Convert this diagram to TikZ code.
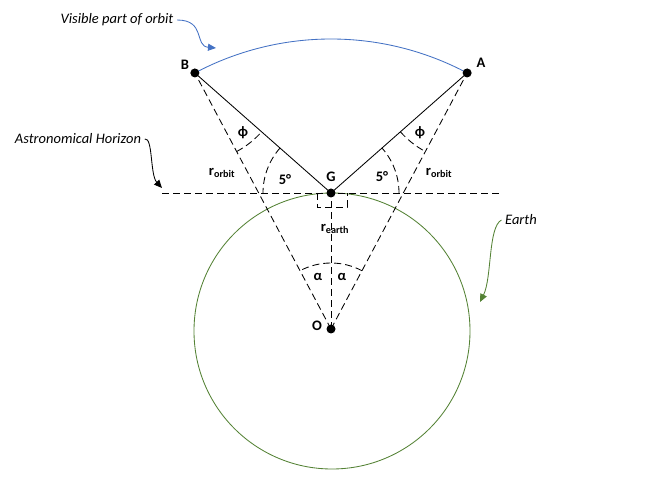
\documentclass[tikz,border=0pt]{standalone}
\usepackage{fontspec}
\setmainfont{Carlito}
\usetikzlibrary{calc,angles,arrows.meta}
\definecolor{orbitblue}{HTML}{4472C4}
\definecolor{earthgreen}{HTML}{548235}
\newcommand{\picsize}{\fontsize{14.5}{17}\selectfont}
\tikzset{
  dashline/.style={dash pattern=on 7pt off 4pt},
  angarc/.style={draw, dash pattern=on 7pt off 4pt},
  lbl/.style={font=\picsize\bfseries},
  note/.style={font=\picsize\itshape},
  dot/.style={fill=black}
}
\begin{document}
\begin{tikzpicture}[x=1pt, y=1pt, line width=0.85pt]
\useasboundingbox (0,0) rectangle (646,493);
%points
\coordinate (O) at (331,164);
\coordinate (G) at (331,300);
\coordinate (A) at ($(O)+(62:290)$);
\coordinate (B) at ($(O)+(118:290)$);
\coordinate (earthC) at (332,162); %centre of drawn earth
%ends of horizon
\coordinate (H1) at (162,300);
\coordinate (H2) at (500,300);
%tips of the note arrows
\coordinate (visTip) at (216,445);
\coordinate (horTip) at (162,305);
\coordinate (earthTip) at (480,191);
%earth and orbit
\draw [earthgreen] (earthC) circle (138);
\draw [orbitblue] (A) arc [start angle=62, end angle=118, radius=290];
%lines
\draw [dashline] (H1) -- (H2);
\draw [dashline] (O) -- (A);
\draw [dashline] (O) -- (B);
\draw [dashline] (O) -- (G);
\draw (G) -- (A);
\draw (G) -- (B);
\draw [dashline] (317,300) -- (317,286) -- (347,286) -- (347,300);
%angles
\pic [angarc, angle radius=66pt] {angle = A--O--B};
\pic [angarc, angle radius=68pt] {angle = H2--G--A};
\pic [angarc, angle radius=68pt] {angle = B--G--H1};
\pic [angarc, angle radius=89pt] {angle = G--A--O};
\pic [angarc, angle radius=89pt] {angle = O--B--G};
%dots
\fill [dot] (O) circle (4.5);
\fill [dot] (G) circle (4.5);
\fill [dot] (A) circle (4.5);
\fill [dot] (B) circle (4.5);
%labels
\node [lbl] (labB) at (185,428) {B};
\node [lbl] (labA) at (481,430) {A};
\node [lbl] (labG) at (331,316) {G};
\node [lbl] (labO) at (317,167) {O};
\node [lbl] (rOrbL) at (222,320) {r\textsubscript{orbit}};
\node [lbl] (rOrbR) at (439,320) {r\textsubscript{orbit}};
\node [lbl] (rEarth) at (335,264) {r\textsubscript{earth}};
\node [lbl] (fiveL) at (285,313) {5°};
\node [lbl] (fiveR) at (382,316) {5°};
\node [lbl] (phiL) at (243,360) {ϕ};
\node [lbl] (phiR) at (420,360) {ϕ};
\node [lbl] (alphaL) at (318,216) {α};
\node [lbl] (alphaR) at (342,216) {α};
%notes
\node [note] (vis) at (117,473) {Visible part of orbit};
\node [note] (hor) at (78,354) {Astronomical Horizon};
\node [note] (earthNote) at (521,273) {Earth};
\draw [orbitblue, -{Triangle[length=8pt,width=7pt]}] (vis.east) .. controls (206,473) and (194,447) .. (visTip);
\draw [-{Triangle[length=8pt,width=7pt]}] (hor.east) .. controls (153,356) and (150,318) .. (horTip);
\draw [earthgreen, -{Triangle[length=8pt,width=7pt]}] (earthNote.west) .. controls (488,266) and (492,215) .. (earthTip);
\end{tikzpicture}
\end{document}
